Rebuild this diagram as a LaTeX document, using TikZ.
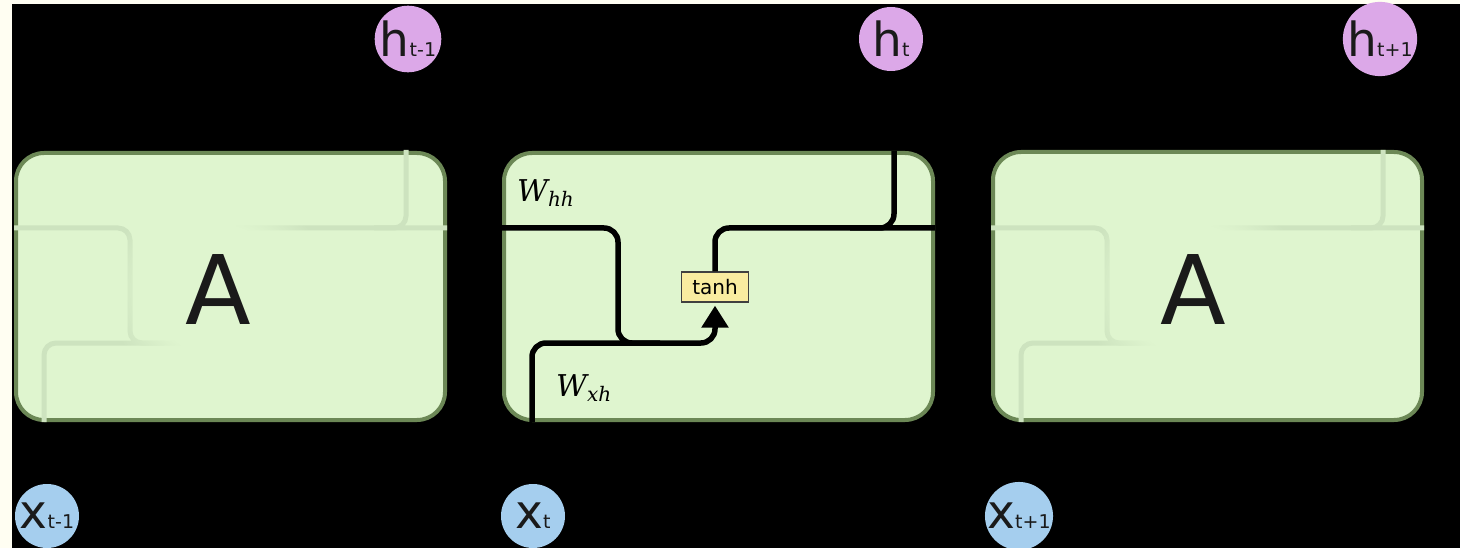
\documentclass[tikz,border=0pt]{standalone}
\usepackage{fontspec}
\newfontfamily\labelfont{DejaVu Sans}
\newfontfamily\weightfont{DejaVu Serif}
\usetikzlibrary{arrows.meta,fadings}

\definecolor{paper}{RGB}{255,254,242}
\definecolor{cellfill}{RGB}{223,245,207}
\definecolor{cellborder}{RGB}{108,136,86}
\definecolor{ghost}{RGB}{205,227,191}
\definecolor{hcol}{RGB}{220,168,232}
\definecolor{xcol}{RGB}{165,206,238}
\definecolor{tanhfill}{RGB}{249,236,160}
\definecolor{ink}{RGB}{26,26,26}

% soft disc used to fade the inner wiring of the collapsed cells
\pgfdeclareradialshading{glowshade}{\pgfpoint{0bp}{0bp}}{color(0bp)=(white); color(15bp)=(white); color(25bp)=(black); color(50bp)=(black)}
\pgfdeclarefading{glowfade}{\pgfuseshading{glowshade}}

\newcommand\cellbig[1]{{\fontsize{47}{47}\selectfont #1}}
\newcommand\cellsub[1]{{\fontsize{19}{19}\selectfont #1}}
% weight label: italic W with a lowered subscript
\newcommand\weight[1]{{\weightfont\itshape\fontsize{30}{30}\selectfont W\raisebox{-5pt}{\fontsize{20}{20}\selectfont #1}}}

% faint copy of the cell wiring, in cell-local coordinates
\newcommand\ghostwires{%
  \draw[ghostwire] (0,228) -- (116,228) -- (116,343) -- (213,343) -- (213,300);
  \draw[ghostwire] (30,422) -- (30,343) -- (150,343);
  \draw[ghostwire] (213,272) -- (213,228) -- (433,228);
  \draw[ghostwire] (392,150) -- (392,228) -- (360,228);
}

\begin{document}
\begin{tikzpicture}[x=1pt,y=-1pt,
  cell/.style={fill=cellfill, draw=cellborder, line width=4pt, rounded corners=28pt},
  ghostwire/.style={draw=ghost, line width=5pt, rounded corners=12pt},
  wire/.style={draw=black, line width=5.5pt, rounded corners=14pt},
  hcirc/.style={circle, fill=hcol, minimum size=64pt, inner sep=0pt, text=ink, font=\labelfont},
  xcirc/.style={circle, fill=xcol, minimum size=64pt, inner sep=0pt, text=ink, font=\labelfont},
  bigA/.style={inner sep=0pt, text=ink, font=\labelfont\fontsize{96}{96}\selectfont},
  tanhbox/.style={rectangle, fill=tanhfill, draw=black!75, line width=1.3pt, minimum width=67pt, minimum height=30pt, inner sep=0pt, font=\labelfont\fontsize{20}{20}\selectfont},
  wlabel/.style={inner sep=0pt, text=black}]
\useasboundingbox (0,0) rectangle (1460,548);
\fill[paper] (0,0) rectangle (1460,548);
\fill[black] (12,4) rectangle (1460,548);

% left cell, collapsed
\begin{scope}[shift={(14,0)}]
  \draw[cell] (2,153) rectangle (431,420);
  \ghostwires
  \fill[cellfill, path fading=glowfade] (204,290) circle (110);
  \node[bigA, anchor=base] (A1) at (204,324) {A};
\end{scope}

% right cell, collapsed
\begin{scope}[shift={(991,0)}]
  \draw[cell] (2,152) rectangle (431,420);
  \ghostwires
  \fill[cellfill, path fading=glowfade] (202,290) circle (110);
  \node[bigA, anchor=base] (A3) at (202,324) {A};
\end{scope}

% middle cell, opened up
\draw[cell] (504,153) rectangle (933,420);
\coordinate (hin) at (502,228);
\coordinate (xin) at (532,422);
\coordinate (hout) at (935,228);
\coordinate (hup) at (894,151);
\node[tanhbox] (tanh) at (715,287) {tanh};
\draw[wire, -{Triangle[width=26pt,length=22pt]}, shorten >=3pt]
  (hin) -- (618,228) -- (618,343) -- (715,343) -- (tanh.south);
\draw[wire] (xin) -- (532,343) -- (660,343);
\draw[wire] (tanh.north) -- (715,228) -- (hout);
\draw[wire] (hup) -- (894,228) -- (850,228);
\node[wlabel, anchor=base west] (whh) at (517,202) {\weight{hh}};
\node[wlabel, anchor=base west] (wxh) at (556,396) {\weight{xh}};

% outputs
\node[hcirc] (h1) at (408,39) {\cellbig{h}\cellsub{t-1}};
\node[hcirc] (h2) at (891,39) {\cellbig{h}\cellsub{t}};
\node[hcirc] (h3) at (1380,39) {\cellbig{h}\cellsub{t+1}};

% inputs
\node[xcirc] (x1) at (47,516) {\cellbig{x}\cellsub{t-1}};
\node[xcirc] (x2) at (533,516) {\cellbig{x}\cellsub{t}};
\node[xcirc] (x3) at (1019,516) {\cellbig{x}\cellsub{t+1}};
\end{tikzpicture}
\end{document}
